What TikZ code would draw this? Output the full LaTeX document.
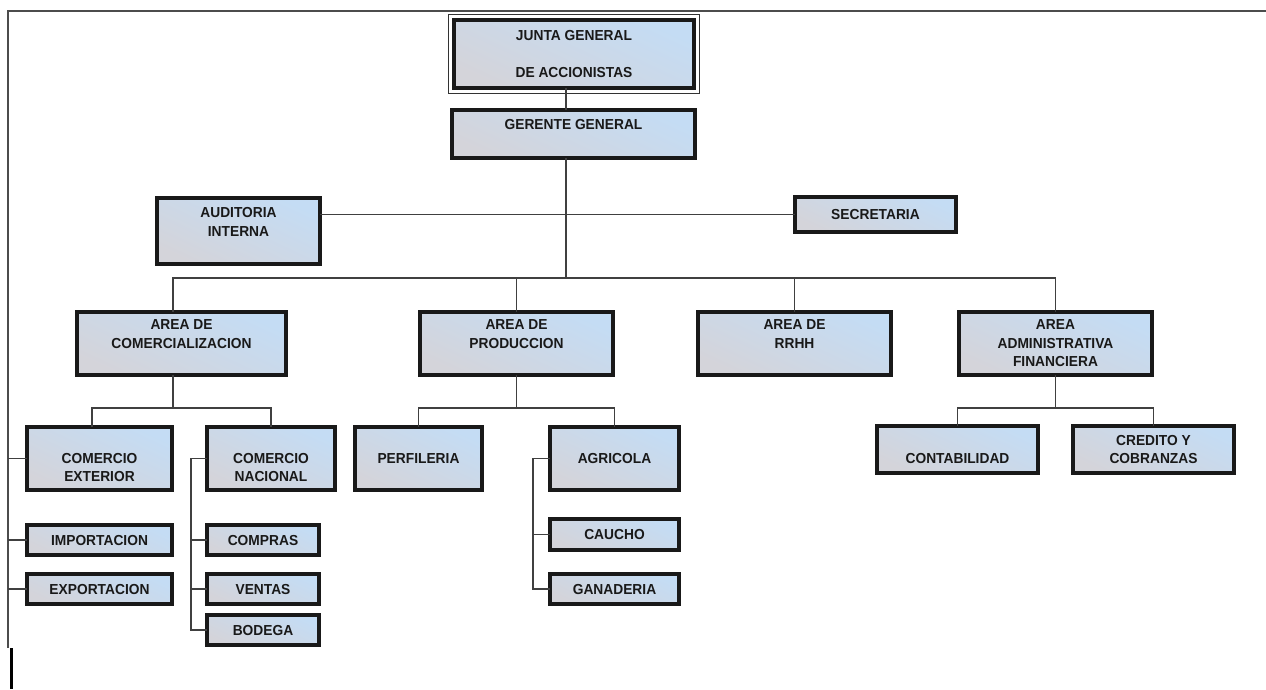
\documentclass[tikz,border=0pt]{standalone}
\usepackage{fontspec}
\setmainfont{Liberation Sans}[FakeStretch=0.95]
\usepackage{tikz}
\usetikzlibrary{shapes, arrows, backgrounds}

\definecolor{azulcaja}{RGB}{196,220,244}
\definecolor{griscaja}{RGB}{212,212,218}
\newcommand{\hueco}{\vphantom{A}}

\tikzset{
  caja/.style={draw=black!90, line width=4pt, top color=azulcaja, bottom color=griscaja,
    shading angle=-25, align=center, inner sep=0pt, outer sep=0pt,
    font=\bfseries\fontsize{14.5}{18.5}\selectfont, text=black!90},
  linea/.style={draw=black!75, line width=1.3pt},
}

\begin{document}
\begin{tikzpicture}[x=1pt, y=-1pt]
  \useasboundingbox (0,0) rectangle (1266,689);
  \pgfmathsetmacro{\BusA}{278}
  \pgfmathsetmacro{\BusB}{408}

  % marco de la hoja
  \draw[black!70, line width=1.5pt] (1266,11) -- (8,11) -- (8,648);
  \draw[line width=3pt] (11,648) -- (11,689);

  % direccion
  \node[caja, minimum width=240pt, minimum height=68pt] (junta) at (574,54) {JUNTA GENERAL\\\hueco\\DE ACCIONISTAS};
  \draw[black!80, line width=1.2pt] ([xshift=-5.5pt,yshift=5.5pt]junta.north west) rectangle ([xshift=5.5pt,yshift=-5.5pt]junta.south east);
  \node[caja, minimum width=243pt, minimum height=48pt] (gerente) at (573.5,134) {GERENTE GENERAL\\\hueco};
  \node[caja, minimum width=163pt, minimum height=66pt] (auditoria) at (238.5,231) {AUDITORIA\\INTERNA\\\hueco};
  \node[caja, minimum width=161pt, minimum height=35pt] (secretaria) at (875.5,214.5) {SECRETARIA};

  % areas
  \node[caja, minimum width=209pt, minimum height=63pt] (comer) at (181.5,343.5) {AREA DE\\COMERCIALIZACION\\\hueco};
  \node[caja, minimum width=193pt, minimum height=63pt] (prod) at (516.5,343.5) {AREA DE\\PRODUCCION\\\hueco};
  \node[caja, minimum width=193pt, minimum height=63pt] (rrhh) at (794.5,343.5) {AREA DE\\RRHH\\\hueco};
  \node[caja, minimum width=193pt, minimum height=63pt] (fin) at (1055.5,343.5) {AREA\\ADMINISTRATIVA\\FINANCIERA};

  % departamentos
  \node[caja, minimum width=145pt, minimum height=63pt] (cext) at (99.5,458.5) {\hueco\\COMERCIO\\EXTERIOR};
  \node[caja, minimum width=128pt, minimum height=63pt] (cnac) at (271,458.5) {\hueco\\COMERCIO\\NACIONAL};
  \node[caja, minimum width=127pt, minimum height=63pt] (perf) at (418.5,458.5) {PERFILERIA};
  \node[caja, minimum width=129pt, minimum height=63pt] (agri) at (614.5,458.5) {AGRICOLA};
  \node[caja, minimum width=161pt, minimum height=47pt] (cont) at (957.5,449.5) {\hueco\\CONTABILIDAD};
  \node[caja, minimum width=161pt, minimum height=47pt] (cred) at (1153.5,449.5) {CREDITO Y\\COBRANZAS};

  % secciones
  \node[caja, minimum width=145pt, minimum height=30pt] (imp) at (99.5,540) {IMPORTACION};
  \node[caja, minimum width=145pt, minimum height=30pt] (exp) at (99.5,589) {EXPORTACION};
  \node[caja, minimum width=112pt, minimum height=30pt] (compras) at (263,540) {COMPRAS};
  \node[caja, minimum width=112pt, minimum height=30pt] (ventas) at (263,589) {VENTAS};
  \node[caja, minimum width=112pt, minimum height=30pt] (bodega) at (263,630) {BODEGA};
  \node[caja, minimum width=129pt, minimum height=31pt] (caucho) at (614.5,534.5) {CAUCHO};
  \node[caja, minimum width=129pt, minimum height=30pt] (ganaderia) at (614.5,589) {GANADERIA};

  % lineas de mando
  \coordinate (eje) at (566,\BusA);
  \draw[linea] (junta.south -| eje) -- (gerente.north -| eje);
  \draw[linea] (gerente.south -| eje) -- (eje);
  \draw[linea] (auditoria.east |- secretaria.west) -- (secretaria.west);
  \draw[linea] ([xshift=-8.5pt]comer.north) |- (eje) -| (fin.north);
  \draw[linea] (prod.north) -- (prod.north |- eje);
  \draw[linea] (rrhh.north) -- (rrhh.north |- eje);

  \coordinate (bcom) at (173,\BusB);
  \coordinate (bprod) at (prod.south |- bcom);
  \coordinate (bfin) at (fin.south |- bcom);
  \draw[linea] ([xshift=-8.5pt]comer.south) -- (bcom);
  \draw[linea] ([xshift=-7.5pt]cext.north) |- (bcom) -| (cnac.north);
  \draw[linea] (prod.south) -- (bprod);
  \draw[linea] (perf.north) |- (bprod) -| (agri.north);
  \draw[linea] (fin.south) -- (bfin);
  \draw[linea] (cont.north) |- (bfin) -| (cred.north);

  % ramas laterales
  \coordinate (marco) at (8,648);
  \foreach \n in {cext, imp, exp}
    \draw[linea] (\n.west) -- (\n.west -| marco);
  \draw[linea] (cnac.west) -- ++(-16,0) |- (bodega.west);
  \foreach \n in {compras, ventas}
    \draw[linea] (\n.west) -- ++(-16,0);
  \draw[linea] (agri.west) -- ++(-17,0) |- (ganaderia.west);
  \draw[linea] (caucho.west) -- ++(-17,0);
\end{tikzpicture}
\end{document}
